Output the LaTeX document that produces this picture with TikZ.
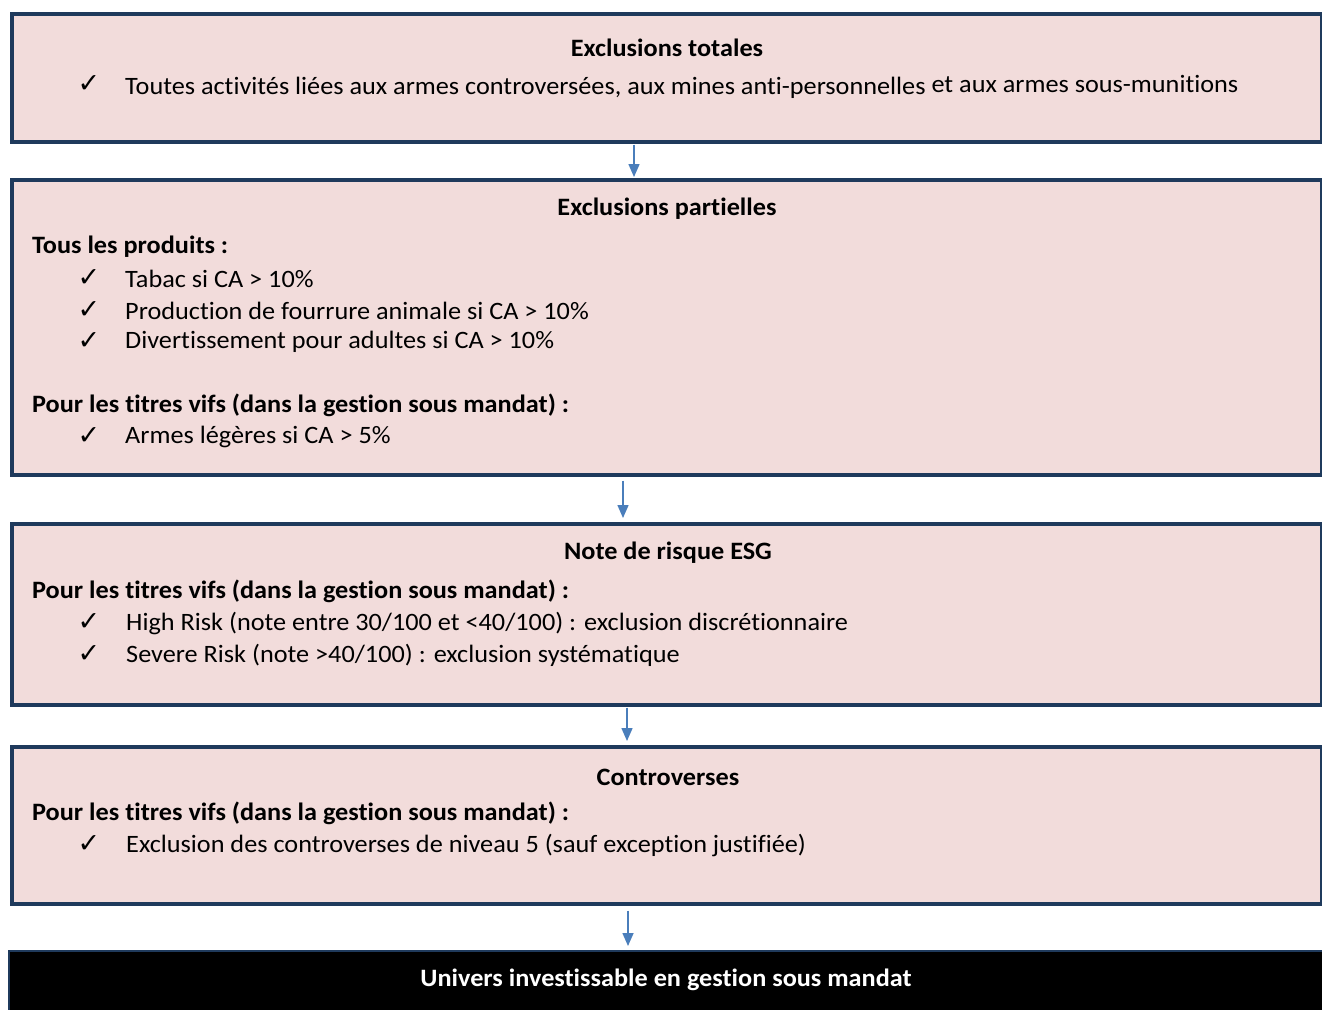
\documentclass[tikz,border=0pt]{standalone}
\usepackage{fontspec}
\setmainfont{Carlito}[FakeStretch=1.05, Ligatures=NoCommon]
\newfontfamily\symfont{DejaVu Sans}
\usetikzlibrary{arrows.meta}
\definecolor{boxfill}{HTML}{F2DCDB}
\definecolor{boxline}{HTML}{1F3A5C}
\definecolor{arrblue}{HTML}{4A7EBB}
\tikzset{
  x=1pt, y=-1pt,
  stage/.style={draw=boxline, line width=3.5pt, fill=boxfill, rectangle, anchor=north west, inner sep=0pt},
  final/.style={draw=boxline, line width=2pt, fill=black, rectangle, anchor=north west, inner sep=0pt},
  ttl/.style={font=\fontsize{25}{29}\selectfont\bfseries, anchor=center, inner sep=0pt},
  hdr/.style={font=\fontsize{25}{29}\selectfont\bfseries, anchor=west, inner sep=0pt},
  itm/.style={font=\fontsize{25}{29}\selectfont, anchor=west, inner sep=0pt},
  chk/.style={font=\fontsize{27}{30}\symfont, anchor=center, inner sep=0pt},
  flow/.style={draw=arrblue, line width=1.5pt, -{Triangle[width=11pt,length=13pt]}},
}
\newcommand{\ck}{✓}
\begin{document}
\begin{tikzpicture}
\useasboundingbox (0,0) rectangle (1322,1009);
\fill[white] (0,0) rectangle (1322,1009);
% boxes
\node[stage, minimum width=1310pt, minimum height=128pt] (b1) at (10,12) {};
\node[stage, minimum width=1310pt, minimum height=295pt] (b2) at (10,178) {};
\node[stage, minimum width=1310pt, minimum height=181pt] (b3) at (10,522) {};
\node[stage, minimum width=1310pt, minimum height=157pt] (b4) at (10,745) {};
\node[final, minimum width=1318pt, minimum height=62pt] (b5) at (8,950) {};
% box 1
\node[ttl] (t1) at (667,48) {Exclusions totales};
\node[chk] (c11) at (89,84) {\ck};
\node[itm] (i11) at (125,87) {Toutes activités liées aux armes controversées, aux mines anti-personnelles\raisebox{1.5pt}{ et aux armes sous-munitions}};
% box 2
\node[ttl] (t2) at (667,209) {Exclusions partielles};
\node[hdr] (h21) at (32,247) {Tous les produits :};
\node[chk] (c21) at (89,278) {\ck};
\node[itm] (i21) at (125,279) {Tabac si CA > 10\%};
\node[chk] (c22) at (89,310) {\ck};
\node[itm] (i22) at (125,311) {Production de fourrure animale si CA > 10\%};
\node[chk] (c23) at (89,341) {\ck};
\node[itm] (i23) at (125,342) {Divertissement pour adultes si CA > 10\%};
\node[hdr] (h22) at (32,405) {Pour les titres vifs (dans la gestion sous mandat) :};
\node[chk] (c24) at (89,436) {\ck};
\node[itm] (i24) at (125,437) {Armes légères si CA > 5\%};
% box 3
\node[ttl] (t3) at (668,553) {Note de risque ESG};
\node[hdr] (h31) at (32,591) {Pour les titres vifs (dans la gestion sous mandat) :};
\node[chk] (c31) at (89,622) {\ck};
\node[itm] (i31) at (126,623) {High Risk (note entre 30/100 et <40/100) : exclusion discrétionnaire};
\node[chk] (c32) at (89,654) {\ck};
\node[itm] (i32) at (126,655) {Severe Risk (note >40/100) : exclusion systématique};
% box 4
\node[ttl] (t4) at (668,777) {Controverses};
\node[hdr] (h41) at (32,813) {Pour les titres vifs (dans la gestion sous mandat) :};
\node[chk] (c41) at (89,844) {\ck};
\node[itm] (i41) at (126,845) {Exclusion des controverses de niveau 5 (sauf exception justifiée)};
% box 5
\node[ttl, text=white] (t5) at (666,980) {Univers investissable en gestion sous mandat};
% arrows
\coordinate (a1) at (634,0);
\coordinate (a2) at (623,0);
\coordinate (a3) at (627,0);
\coordinate (a4) at (628,0);
\draw[flow, shorten <=1pt, shorten >=1pt] (a1 |- b1.south) -- (a1 |- b2.north);
\draw[flow, shorten <=4pt, shorten >=4pt] (a2 |- b2.south) -- (a2 |- b3.north);
\draw[flow, shorten <=1pt, shorten >=4pt] (a3 |- b3.south) -- (a3 |- b4.north);
\draw[flow, shorten <=5pt, shorten >=4pt] (a4 |- b4.south) -- (a4 |- b5.north);
\end{tikzpicture}
\end{document}
